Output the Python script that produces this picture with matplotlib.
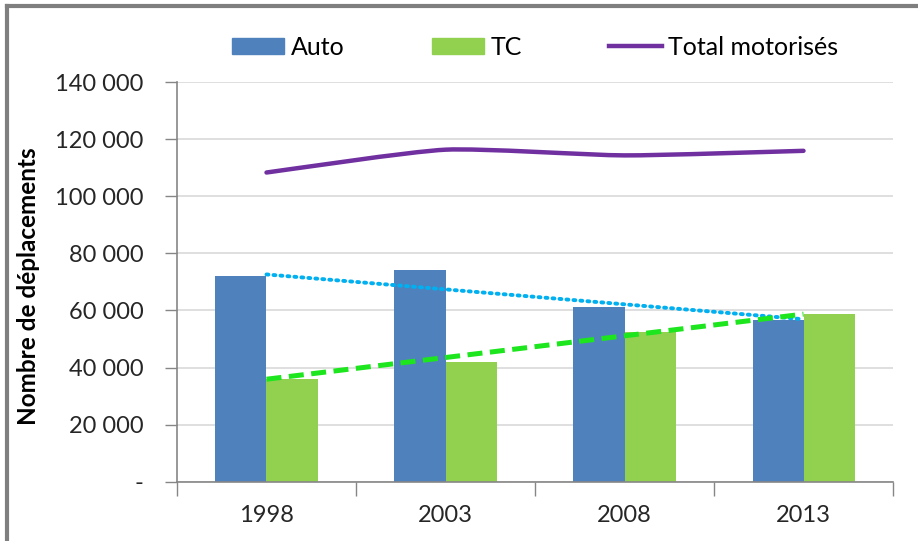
import numpy as np
import matplotlib
matplotlib.use("Agg")
import matplotlib.pyplot as plt
from matplotlib.patches import Patch, PathPatch
from matplotlib.lines import Line2D
from matplotlib.path import Path
from matplotlib.ticker import FuncFormatter

# donnees
annees = ["1998", "2003", "2008", "2013"]
auto = [72100, 74000, 61300, 56700]
tc = [35800, 41800, 52400, 58600]
total = [108300, 116300, 114300, 115900]

# courbes de tendance (debut 1998, fin 2013)
tendance_auto = [72600, 56900]
tendance_tc = [35900, 58700]

plt.rcParams["font.family"] = ["Lato", "DejaVu Sans"]

fig = plt.figure(figsize=(9.18, 5.41), dpi=100)
ax = fig.add_axes([0.1928, 0.1096, 0.7800, 0.7388])

x = np.arange(len(annees))
w = 0.285
ax.bar(x - w / 2, auto, w, color="#4F81BD", zorder=2)
ax.bar(x + w / 2, tc, w, color="#92D050", zorder=2)

# ligne lissee du total
pts = np.column_stack([x, total]).astype(float)
ext = np.vstack([pts[0], pts, pts[-1]])
verts = [tuple(pts[0])]
codes = [Path.MOVETO]
for i in range(len(pts) - 1):
    p0, p1, p2, p3 = ext[i], ext[i + 1], ext[i + 2], ext[i + 3]
    c1 = p1 + (p2 - p0) / 10
    c2 = p2 - (p3 - p1) / 10
    verts += [tuple(c1), tuple(c2), tuple(p2)]
    codes += [Path.CURVE4] * 3
ax.add_patch(PathPatch(Path(verts, codes), fill=False, edgecolor="#7030A0",
                       lw=3.2, capstyle="round", zorder=3))

ax.plot([x[0], x[-1]], tendance_auto, color="#00B0F0", lw=2.8,
        linestyle=(0, (0.5, 1.3)), dash_capstyle="round", zorder=4)
ax.plot([x[0], x[-1]], tendance_tc, color="#1EE61E", lw=3.6,
        linestyle=(0, (3.0, 1.5)), zorder=4)

ax.set_xlim(-0.5, len(annees) - 0.5)
ax.set_ylim(0, 140000)
ax.set_yticks(np.arange(0, 140001, 20000))
ax.yaxis.set_major_formatter(FuncFormatter(
    lambda v, p: "-" if v == 0 else f"{int(v):,}".replace(",", " ")))
ax.grid(axis="y", color="#D9D9D9", lw=1.2, zorder=0)

ax.set_xticks(np.arange(-0.5, len(annees), 1.0))
ax.set_xticklabels([])
ax.set_xticks(x, minor=True)
ax.set_xticklabels(annees, minor=True)
ax.tick_params(axis="x", which="major", length=10, color="#868686", width=1)
ax.tick_params(axis="x", which="minor", length=0, pad=17, labelsize=17,
               labelcolor="#262626")
ax.tick_params(axis="y", length=9, color="#868686", width=1, pad=15,
               labelsize=17, labelcolor="#262626")

for s in ["top", "right"]:
    ax.spines[s].set_visible(False)
for s in ["left", "bottom"]:
    ax.spines[s].set_color("#868686")
    ax.spines[s].set_linewidth(1.2)

ax.set_ylabel("Nombre de déplacements", fontsize=17.5, fontweight="bold")
ax.yaxis.set_label_coords(-0.192, 0.49)

handles = [Patch(color="#4F81BD"), Patch(color="#92D050"),
           Line2D([], [], color="#7030A0", lw=3.2)]
ax.legend(handles, ["Auto", "TC", "Total motorisés"], ncol=3,
          loc="center", bbox_to_anchor=(0.5, 1.0875), frameon=False,
          fontsize=18, handlelength=2.1, handleheight=0.6,
          handletextpad=0.25, columnspacing=3.5, borderaxespad=0)

# cadre du graphique
fig.add_artist(Line2D([0.0076, 0.0076], [0, 0.989], color="#7F7F7F", lw=3))
fig.add_artist(Line2D([0.0076, 1], [0.989, 0.989], color="#7F7F7F", lw=3))

fig.savefig("out.png", dpi=100)
